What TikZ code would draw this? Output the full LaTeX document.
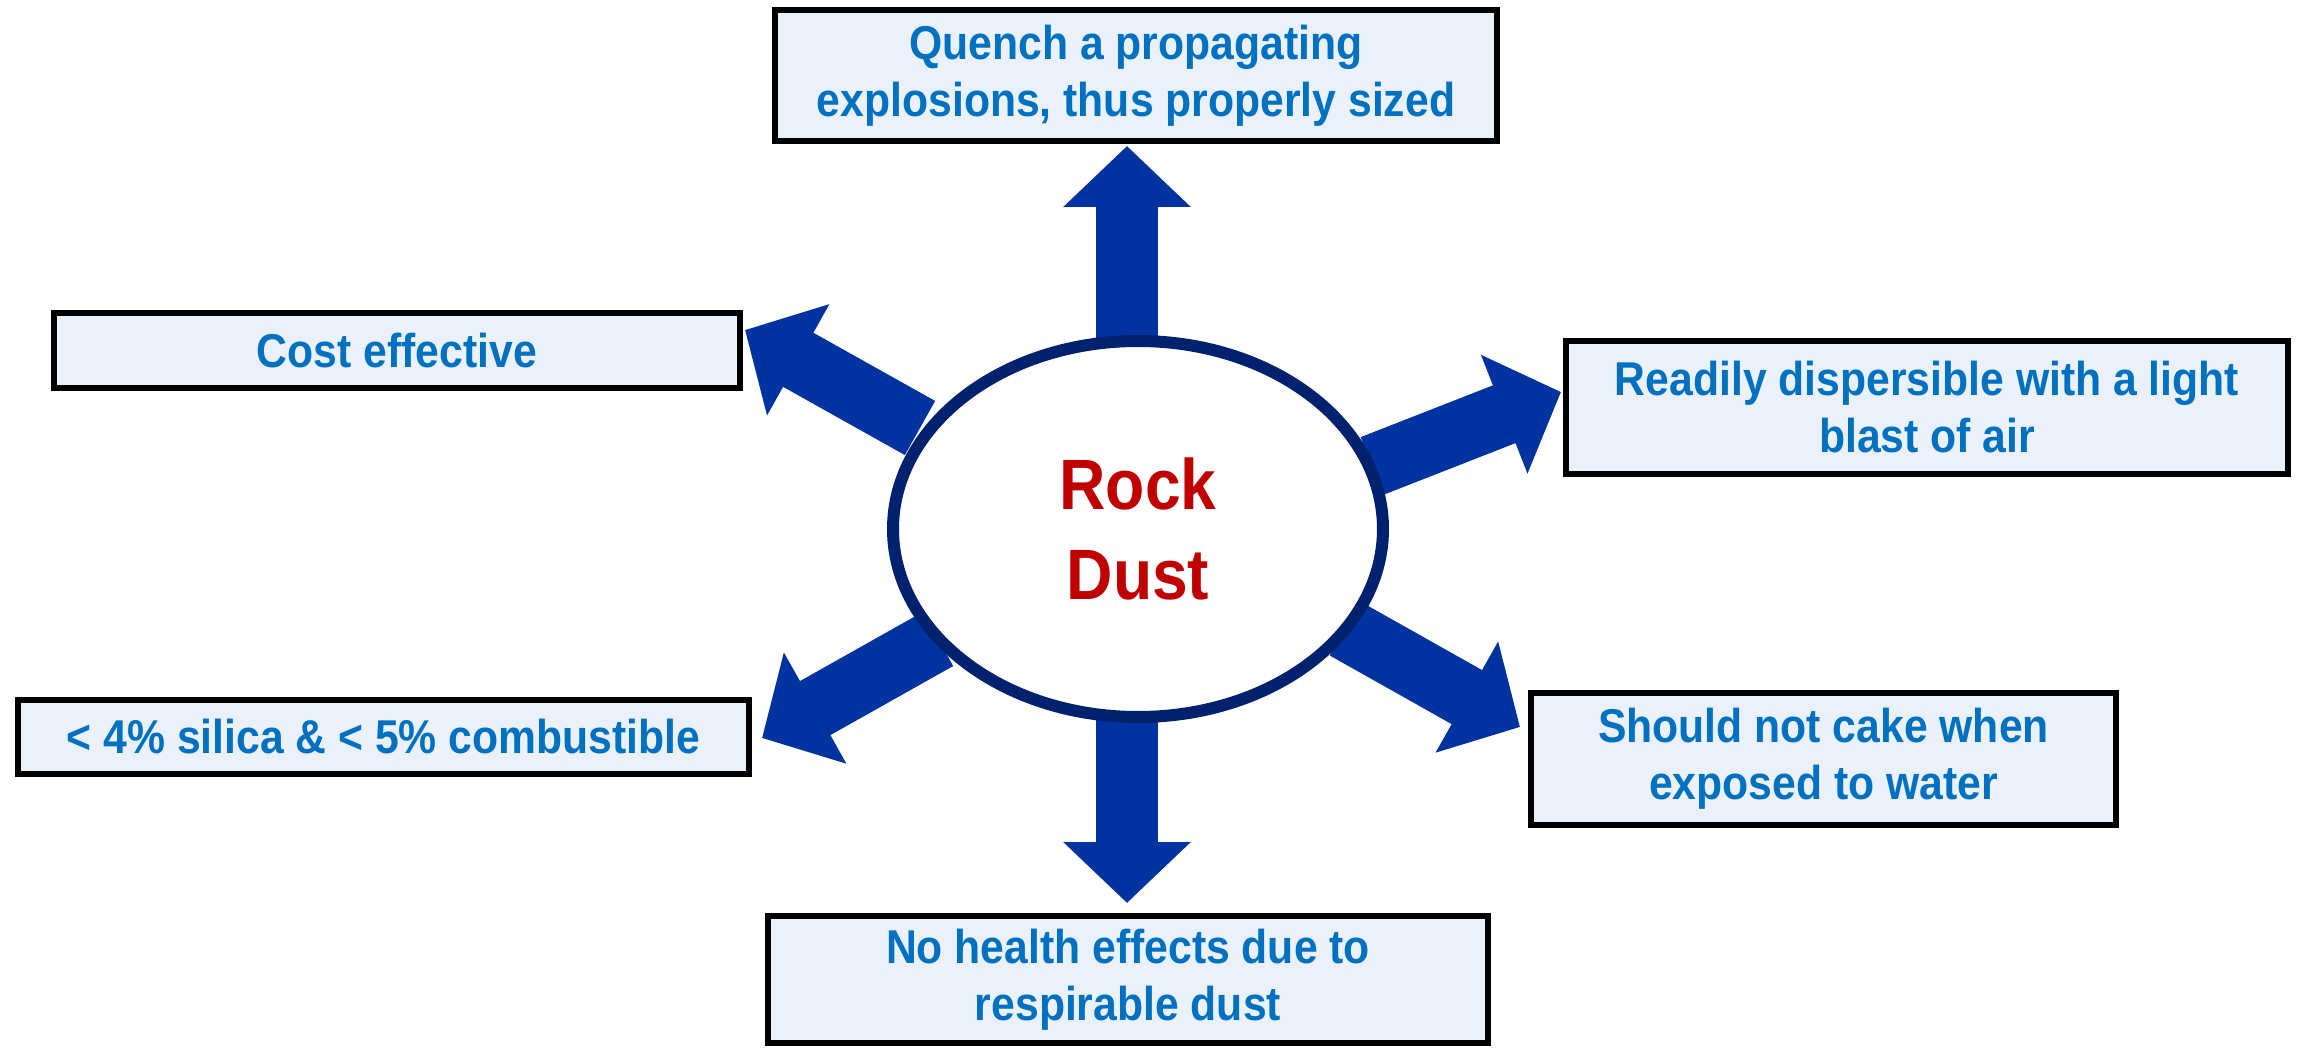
\documentclass[tikz,border=0pt]{standalone}
\usepackage{fontspec}
\setmainfont[FakeStretch=0.9]{Liberation Sans}
\usepackage{tikz}
\usetikzlibrary{arrows.meta, shapes.geometric, backgrounds}
\definecolor{dustBlue}{HTML}{0070C0}
\definecolor{dustRed}{HTML}{C00000}
\definecolor{dustArrow}{HTML}{0033A0}
\definecolor{dustNavy}{HTML}{00226E}
\definecolor{dustFill}{HTML}{EBF1FA}

\begin{document}
\begin{tikzpicture}[x=0.1mm, y=-0.1mm,
    infobox/.style={draw=black, line width=0.6mm, fill=dustFill, text=dustBlue,
      font=\fontsize{13.5}{16.2}\selectfont\bfseries, align=center, inner sep=0pt},
    bigarrow/.style={dustArrow, line width=6.2mm, -{Triangle[width=12.4mm, length=6.1mm]}}]

  \useasboundingbox (0, 0) rectangle (2306, 1050);

  \node[draw=dustNavy, line width=1.2mm, fill=white, ellipse, inner sep=0pt,
        minimum width=49mm, minimum height=37.6mm, text=dustRed,
        font=\fontsize{20.3}{25.6}\selectfont\bfseries, align=center]
        (rock) at (1138, 529) {Rock\\Dust};

  \node[infobox, minimum width=72.2mm, minimum height=13.1mm] (quench) at (1136, 75.5)
    {Quench a propagating\\explosions, thus properly sized};
  \node[infobox, minimum width=68.6mm, minimum height=7.5mm] (cost) at (397, 350.5)
    {Cost effective};
  \node[infobox, minimum width=72.2mm, minimum height=13.3mm] (readily) at (1927, 407.5)
    {Readily dispersible with a light\\blast of air};
  \node[infobox, minimum width=73.1mm, minimum height=7.4mm] (silica) at (383.5, 737)
    {< 4\% silica \& < 5\% combustible};
  \node[infobox, minimum width=58.5mm, minimum height=13.2mm] (cake) at (1823.5, 759)
    {Should not cake when\\exposed to water};
  \node[infobox, minimum width=72mm, minimum height=12.7mm] (health) at (1128, 979.5)
    {No health effects due to\\respirable dust};

  % arrow ends
  \coordinate (tailN) at (1127, 360);   \coordinate (tipN) at (1127, 146);
  \coordinate (tailS) at (1127, 700);   \coordinate (tipS) at (1127, 903);
  \coordinate (tailNW) at (920, 428);   \coordinate (tipNW) at (745, 330);
  \coordinate (tailNE) at (1372, 466);  \coordinate (tipNE) at (1561, 392);
  \coordinate (tailSW) at (938, 639);   \coordinate (tipSW) at (762, 738);
  \coordinate (tailSE) at (1345, 628.5); \coordinate (tipSE) at (1520, 727);

  \begin{scope}[on background layer]
    \draw[bigarrow] (tailN) -- (tipN);
    \draw[bigarrow] (tailS) -- (tipS);
    \draw[bigarrow] (tailNW) -- (tipNW);
    \draw[bigarrow] (tailNE) -- (tipNE);
    \draw[bigarrow] (tailSW) -- (tipSW);
    \draw[bigarrow] (tailSE) -- (tipSE);
  \end{scope}

\end{tikzpicture}
\end{document}
